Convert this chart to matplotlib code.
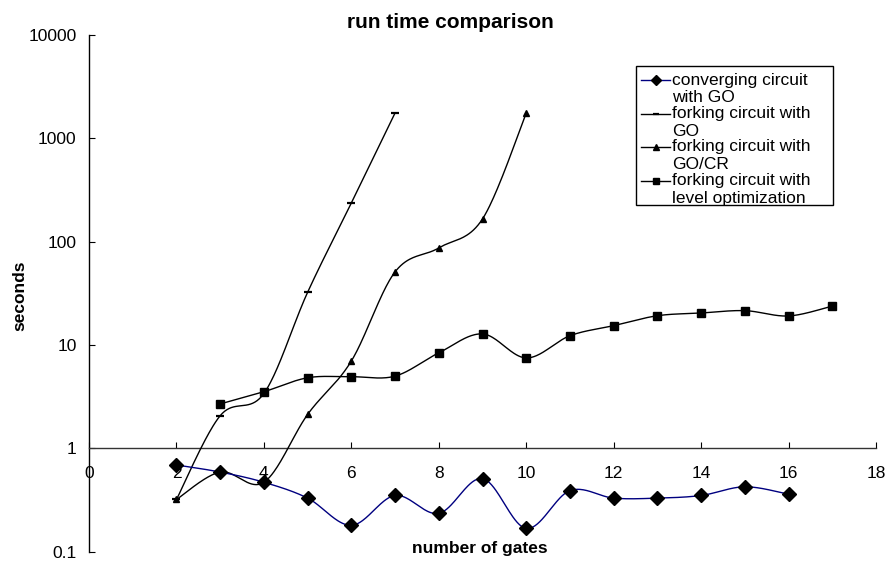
import matplotlib.pyplot as plt
import numpy as np
from matplotlib.patches import Rectangle
from matplotlib.lines import Line2D
from matplotlib.ticker import FixedLocator, FuncFormatter, NullLocator

plt.rcParams['font.family'] = ['Liberation Sans', 'DejaVu Sans']

# values
gates_conv = list(range(2, 17))
conv_go = [0.69, 0.59, 0.47, 0.33, 0.18, 0.35, 0.235, 0.51, 0.168,
           0.39, 0.33, 0.33, 0.35, 0.425, 0.36]

gates_fork_go = [2, 3, 4, 5, 6, 7]
fork_go = [0.32, 2.07, 3.4, 32.4, 237, 1760]

gates_fork_cr = [2, 3, 4, 5, 6, 7, 8, 9, 10]
fork_cr = [0.32, 0.59, 0.47, 2.13, 7.0, 51, 87, 166, 1750]

gates_level = list(range(3, 18))
fork_level = [2.69, 3.53, 4.82, 4.93, 5.0, 8.4, 12.8, 7.5, 12.3,
              15.4, 19.2, 20.4, 21.5, 19.1, 23.8]

labels = ["converging circuit\nwith GO",
          "forking circuit with\nGO",
          "forking circuit with\nGO/CR",
          "forking circuit with\nlevel optimization"]
x_ticks = list(range(0, 20, 2))
y_ticks = [0.1, 1, 10, 100, 1000, 10000]


# Excel-like smoothed line: bezier segments through the points (in log space)
def smooth(xs, ys, n=40):
    x = np.asarray(xs, float)
    y = np.log10(np.asarray(ys, float))
    px = np.concatenate([[x[0]], x, [x[-1]]])
    py = np.concatenate([[y[0]], y, [y[-1]]])
    t = np.linspace(0, 1, n)[:, None]
    outx, outy = [], []
    for i in range(len(x) - 1):
        p0 = np.array([px[i], py[i]])
        p1 = np.array([px[i + 1], py[i + 1]])
        p2 = np.array([px[i + 2], py[i + 2]])
        p3 = np.array([px[i + 3], py[i + 3]])
        c1 = p1 + (p2 - p0) / 6
        c2 = p2 - (p3 - p1) / 6
        b = ((1 - t) ** 3) * p1 + 3 * ((1 - t) ** 2) * t * c1 \
            + 3 * (1 - t) * t ** 2 * c2 + t ** 3 * p2
        outx.append(b[:, 0])
        outy.append(b[:, 1])
    return np.concatenate(outx), 10 ** np.concatenate(outy)


fig = plt.figure(figsize=(8.91, 5.64), dpi=100)
ax = fig.add_axes([0.0999, 0.0218, 0.8833, 0.9162])
ax.set_yscale('log')
ax.set_xlim(0, 18)
ax.set_ylim(0.1, 10000)

series = [
    (gates_conv, conv_go, '#000080', 'D', 7, 5),
    (gates_fork_go, fork_go, 'black', '_', 6, 3),
    (gates_fork_cr, fork_cr, 'black', '^', 5, 3),
    (gates_level, fork_level, 'black', 's', 5.5, 3),
]
for xs, ys, col, mk, ms, z in series:
    sx, sy = smooth(xs, ys)
    ax.plot(sx, sy, color=col, lw=1, zorder=z)
    ax.plot(xs, ys, ls='none', marker=mk, ms=ms, color='black',
            mec='black', mew=1.6 if mk == '_' else 1, zorder=z + 0.5)

# axes like Excel: x axis crosses at y = 1
for s in ['top', 'right']:
    ax.spines[s].set_visible(False)
ax.spines['bottom'].set_position(('data', 1))
ax.spines['bottom'].set_linewidth(1)
ax.spines['left'].set_linewidth(1)
ax.spines['bottom'].set_color('#333333')

ax.xaxis.set_major_locator(FixedLocator(x_ticks))
ax.yaxis.set_major_locator(FixedLocator(y_ticks))
ax.yaxis.set_minor_locator(NullLocator())
ax.yaxis.set_major_formatter(FuncFormatter(lambda v, p: '%g' % v))
ax.tick_params(axis='x', direction='in', length=4, pad=13, labelsize=12.5)
ax.tick_params(axis='y', direction='in', length=4, pad=9, labelsize=12.5)
ax.patch.set_visible(False)

fig.text(0.505, 1 - 23 / 564, "run time comparison", ha='center',
         va='center', fontsize=15, fontweight='bold')
fig.text(20 / 891, 1 - 296 / 564, "seconds", rotation=90, ha='center',
         va='center', fontsize=12.5, fontweight='bold')
fig.text(480 / 891, 1 - 549 / 564, "number of gates", ha='center',
         va='center', fontsize=12.5, fontweight='bold')

# legend drawn by hand to get the wrapped Excel look
W, H = 891, 564
fig.patches.append(Rectangle((636 / W, 1 - 205 / H), 197 / W, 139 / H,
                             transform=fig.transFigure, fill=False,
                             ec='black', lw=1))
first_lines = [80, 113.5, 147, 180.5]
for (xs, ys, col, mk, ms, z), lab, yy in zip(series, labels, first_lines):
    fy = 1 - yy / H
    fig.lines.append(Line2D([641 / W, 670 / W], [fy, fy], color=col, lw=1,
                            transform=fig.transFigure))
    fig.lines.append(Line2D([655.5 / W], [fy], marker=mk, ms=ms * 0.8,
                            color='black', mew=1.6 if mk == '_' else 1,
                            transform=fig.transFigure))
    fig.text(672 / W, 1 - (yy - 7.5) / H, lab, ha='left', va='top',
             fontsize=12.5, linespacing=1.22, transform=fig.transFigure)

fig.savefig('out.png', dpi=100)
